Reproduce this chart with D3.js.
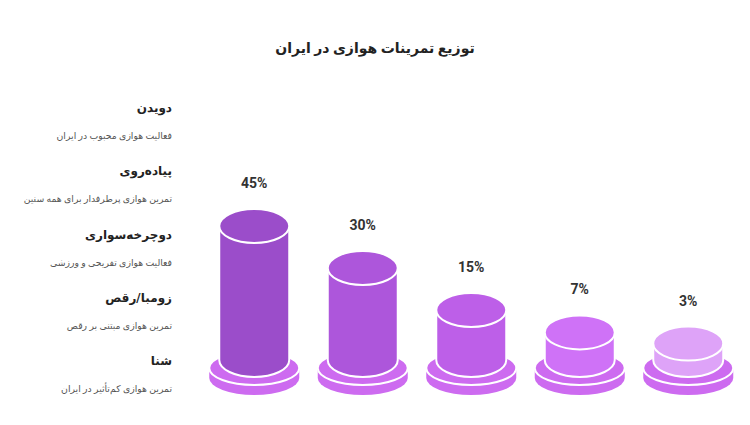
<!DOCTYPE html>
<html><head><meta charset="utf-8">
<script src="https://cdn.jsdelivr.net/npm/d3@7"></script>
<style>html,body{margin:0;padding:0;background:#fff;}svg{display:block;font-family:Roboto,"DejaVu Sans",sans-serif;}</style>
</head><body><svg id="c" width="750" height="425"></svg>
<script>
const chartTitle = "توزیع تمرینات هوازی در ایران";
const categories = ["دویدن","پیاده‌روی","دوچرخه‌سواری","زومبا/رقص","شنا"];
const descriptions = ["فعالیت هوازی محبوب در ایران","تمرین هوازی پرطرفدار برای همه سنین","فعالیت هوازی تفریحی و ورزشی","تمرین هوازی مبتنی بر رقص","تمرین هوازی کم‌تأثیر در ایران"];
const values = [45,30,15,7,3];
const colors = ["#9b4dca","#ad56db","#bd5fe8","#cf72f7","#dea3f8"];
const baseColor = "#cd6bf0";

const svg = d3.select("#c");
svg.append("text").attr("x",375).attr("y",53).attr("text-anchor","middle")
  .attr("font-size",14).attr("font-weight","bold").attr("fill","#222").text(chartTitle);

// Left legend list
const ly = d3.scaleLinear().domain([0,4]).range([112,365]);
const lg = svg.append("g");
categories.forEach((c,i)=>{
  lg.append("text").attr("x",172).attr("y",ly(i)).attr("direction","rtl").attr("text-anchor","start")
    .attr("font-size",12).attr("font-weight","bold").attr("fill","#222").text(c);
  lg.append("text").attr("x",172).attr("y",ly(i)+27).attr("direction","rtl").attr("text-anchor","start")
    .attr("font-size",9.3).attr("fill","#555").text(descriptions[i]);
});

const x = d3.scaleBand().domain(categories).range([200,742.5]).padding(0);
const h = d3.scaleLinear().domain([0,45]).range([8,134]);
const bottomY = 360, rx = 35, ry = 17, brx = 45, baseTop = 368, baseBot = 378;

const g = svg.append("g");
categories.forEach((c,i)=>{
  const cx = x(c) + x.bandwidth()/2;
  const topY = bottomY - h(values[i]);
  const grp = g.append("g");
  grp.append("path").attr("d",
    `M${cx-brx},${baseTop} L${cx-brx},${baseBot} A${brx},${ry} 0 0 0 ${cx+brx},${baseBot} L${cx+brx},${baseTop} Z`)
    .attr("fill",baseColor).attr("stroke","none");
  grp.append("ellipse").attr("cx",cx).attr("cy",baseTop).attr("rx",brx).attr("ry",ry)
    .attr("fill",baseColor).attr("stroke","#fff").attr("stroke-width",2);
  grp.append("path").attr("d",
    `M${cx-rx},${topY} L${cx-rx},${bottomY} A${rx},${ry} 0 0 0 ${cx+rx},${bottomY} L${cx+rx},${topY} Z`)
    .attr("fill",colors[i]).attr("stroke","#fff").attr("stroke-width",2);
  grp.append("ellipse").attr("cx",cx).attr("cy",topY).attr("rx",rx).attr("ry",ry)
    .attr("fill",colors[i]).attr("stroke","#fff").attr("stroke-width",2);
  grp.append("text").attr("x",cx).attr("y",topY-ry-21).attr("text-anchor","middle")
    .attr("font-size",14).attr("font-weight","bold").attr("fill","#333").text(values[i]+"%");
});
</script></body></html>
